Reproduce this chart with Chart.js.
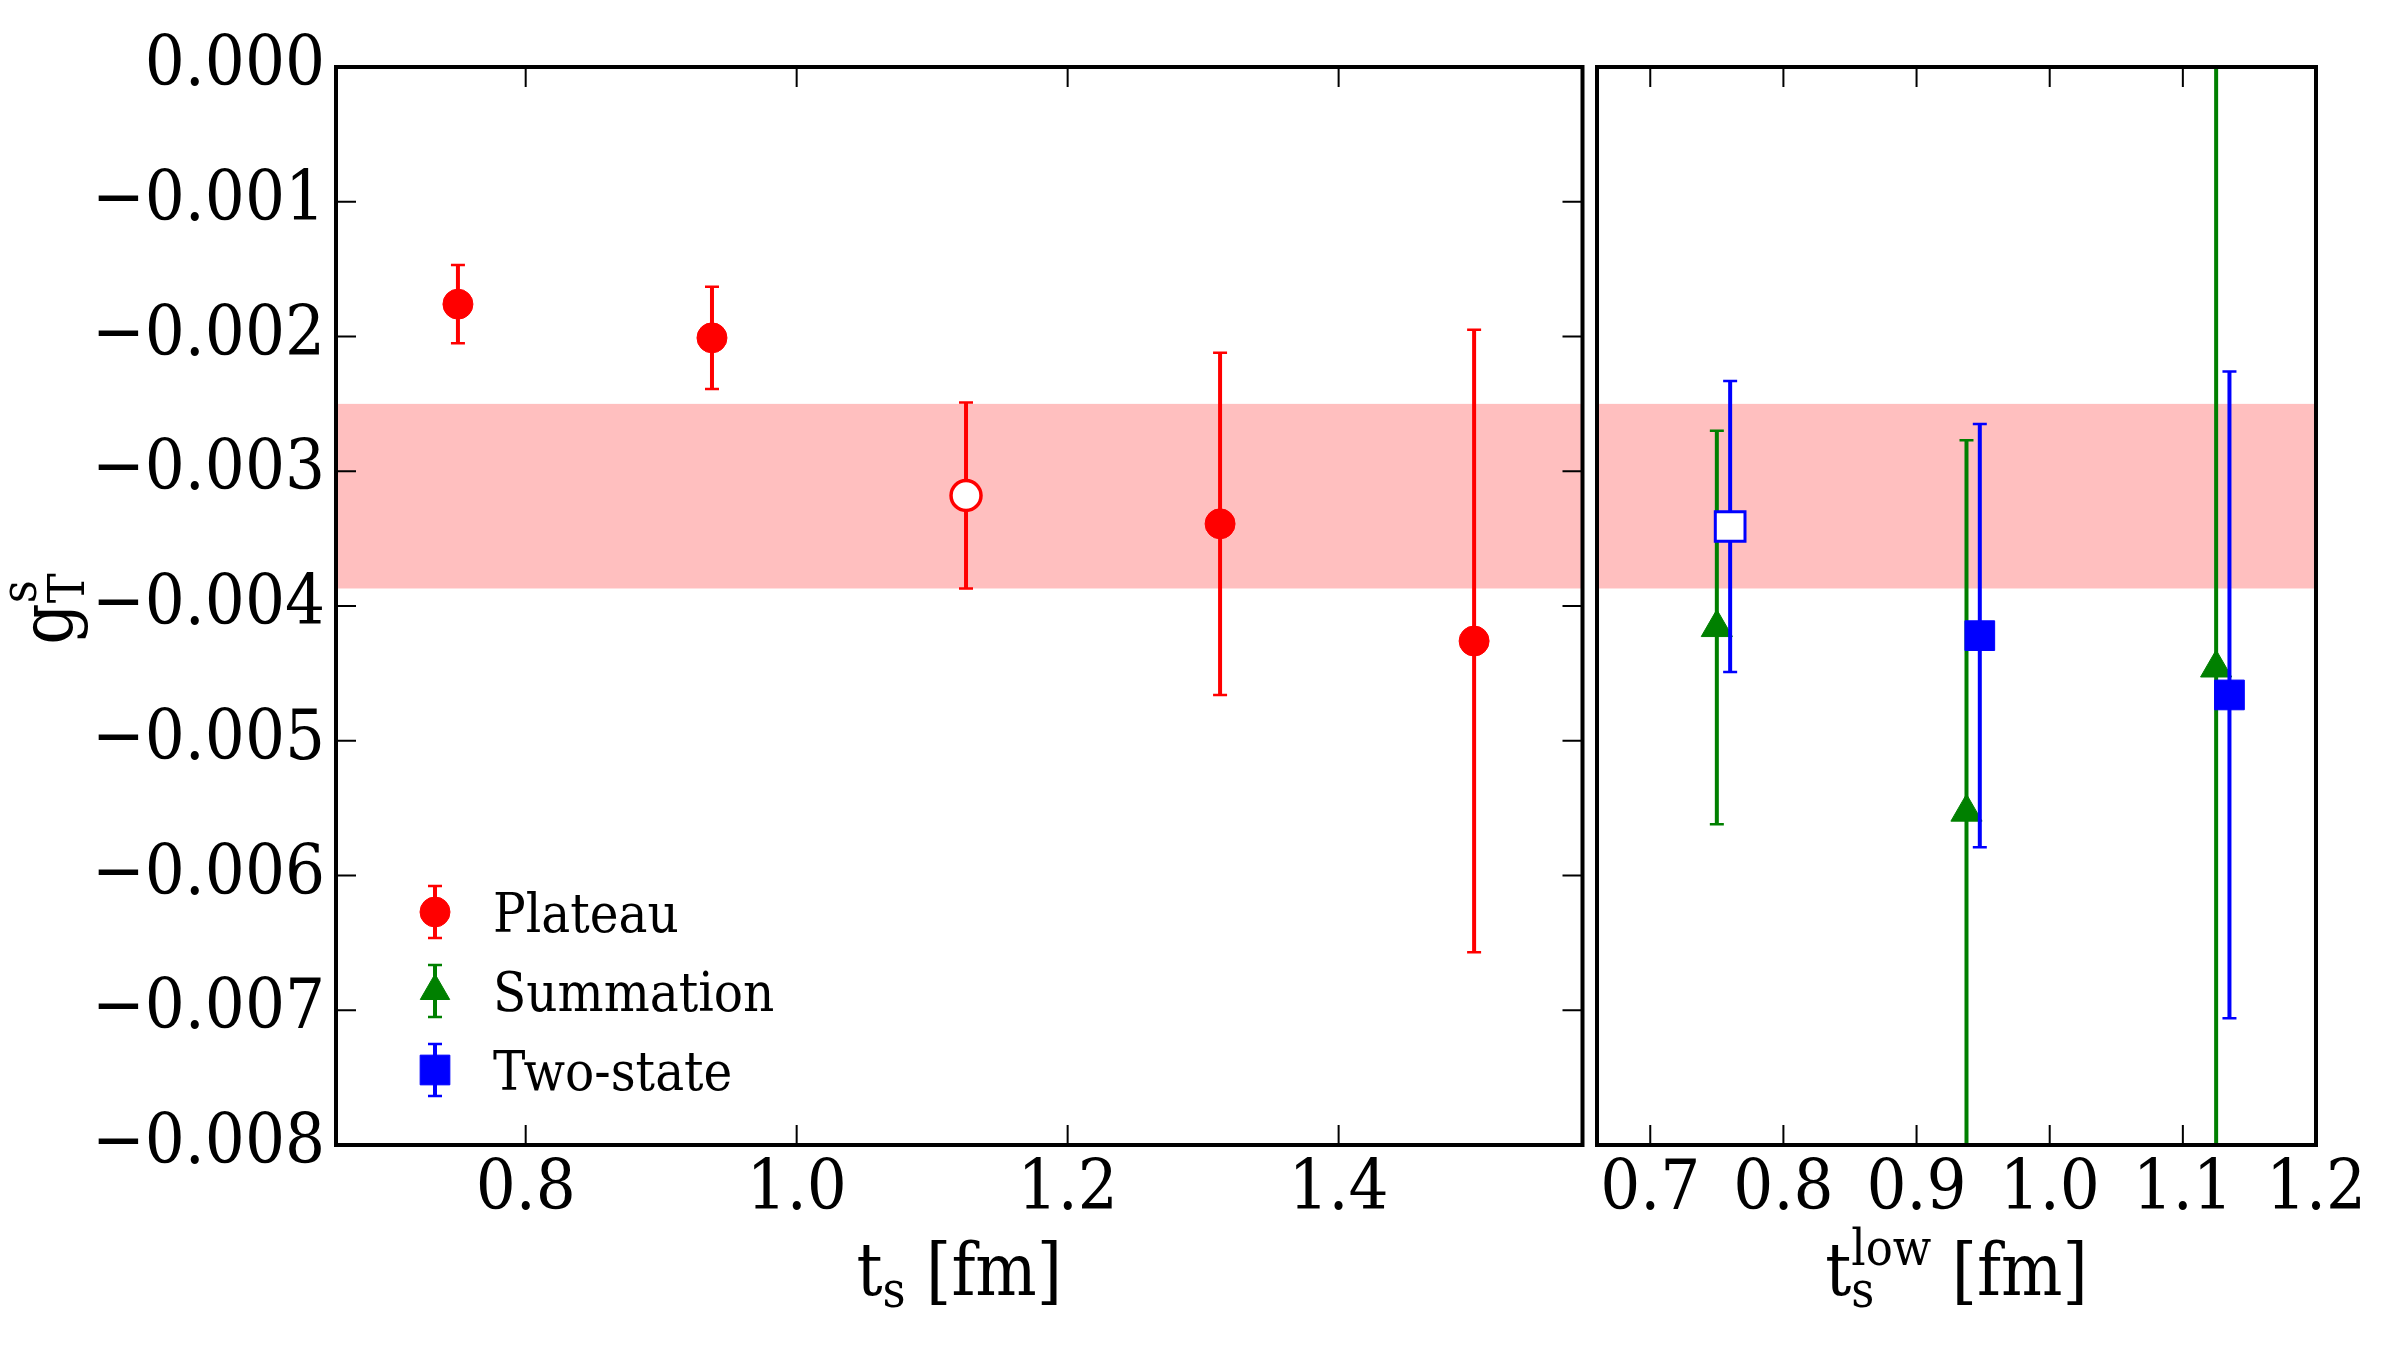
<!DOCTYPE html>
<html>
<head>
<meta charset="utf-8">
<script src="https://cdn.jsdelivr.net/npm/chart.js@4.4.1/dist/chart.umd.min.js"></script>
<style>
  body { margin: 0; background: #fff; }
  #wrap { position: relative; width: 2400px; height: 1350px; }
  #left { position: absolute; left: 0; top: 0; }
  #right { position: absolute; left: 1573px; top: 0; }
</style>
</head>
<body>
<div id="wrap">
  <canvas id="left" width="1601" height="1350"></canvas>
  <canvas id="right" width="827" height="1350"></canvas>
</div>
<script>
const FONT = "'DejaVu Serif Condensed', 'DejaVu Serif', serif";
const TICK_SIZE = 70;

// left panel: plateau values vs source-sink separation
const plateauT = [0.75, 0.9375, 1.125, 1.3125, 1.5];
const plateauVal = [-0.00176, -0.00201, -0.00318, -0.00339, -0.00426];
const plateauErr = [0.00029, 0.00038, 0.00069, 0.00127, 0.00231];
const plateauOpen = [false, false, true, false, false];

// right panel: summation and two-state fits vs lowest ts
const summationT = [0.75, 0.9375, 1.125];
const summationVal = [-0.00416, -0.00553, -0.00446];
const summationErr = [0.00146, 0.00276, 0.0048];

const twoStateT = [0.76, 0.9475, 1.135];
const twoStateVal = [-0.00341, -0.00422, -0.00466];
const twoStateErr = [0.00108, 0.00157, 0.0024];
const twoStateOpen = [true, false, false];

// final value band (low, high)
const band = [-0.00387, -0.00250];

const yTicks = [0, -0.001, -0.002, -0.003, -0.004, -0.005, -0.006, -0.007, -0.008];
const xTicksLeft = [0.8, 1.0, 1.2, 1.4];
const xTicksRight = [0.7, 0.8, 0.9, 1.0, 1.1, 1.2];

const RED = '#ff0000', GREEN = '#008000', BLUE = '#0000ff';

function fmtY(v) {
    if (Math.abs(v) < 1e-12) return '0.000';
    return (v < 0 ? '\u2212' : '') + Math.abs(v).toFixed(3);
}

const bandPlugin = {
    id: 'band',
    beforeDatasetsDraw(chart) {
        const {ctx, chartArea, scales} = chart;
        const y1 = scales.y.getPixelForValue(band[1]);
        const y0 = scales.y.getPixelForValue(band[0]);
        ctx.save();
        ctx.fillStyle = 'rgba(255, 0, 0, 0.25)';
        ctx.fillRect(chartArea.left, y1, chartArea.right - chartArea.left, y0 - y1);
        ctx.restore();
    }
};

// error bars drawn just before each dataset's markers
const errorBarPlugin = {
    id: 'errbars',
    beforeDatasetDraw(chart, args) {
        const ds = chart.data.datasets[args.index];
        if (!ds.errors) return;
        const {ctx, chartArea, scales} = chart;
        ctx.save();
        ctx.beginPath();
        ctx.rect(chartArea.left, chartArea.top, chartArea.right - chartArea.left, chartArea.bottom - chartArea.top);
        ctx.clip();
        ctx.strokeStyle = ds.borderColor;
        ds.data.forEach((p, i) => {
            const x = scales.x.getPixelForValue(p.x);
            const yt = scales.y.getPixelForValue(p.y + ds.errors[i]);
            const yb = scales.y.getPixelForValue(p.y - ds.errors[i]);
            ctx.lineWidth = 4;
            ctx.beginPath();
            ctx.moveTo(x, yt);
            ctx.lineTo(x, yb);
            ctx.stroke();
            ctx.lineWidth = 2.5;
            ctx.beginPath();
            ctx.moveTo(x - 7, yt); ctx.lineTo(x + 7, yt);
            ctx.moveTo(x - 7, yb); ctx.lineTo(x + 7, yb);
            ctx.stroke();
        });
        ctx.restore();
    }
};

// box and inward ticks like the matplotlib frame
const framePlugin = {
    id: 'frame',
    afterDraw(chart, args, opts) {
        const {ctx, chartArea, scales} = chart;
        const {left, right, top, bottom} = chartArea;
        ctx.save();
        ctx.strokeStyle = '#000';
        ctx.lineWidth = 2;
        ctx.beginPath();
        opts.xTicks.forEach(v => {
            const x = scales.x.getPixelForValue(v);
            ctx.moveTo(x, top); ctx.lineTo(x, top + 20);
            ctx.moveTo(x, bottom); ctx.lineTo(x, bottom - 20);
        });
        if (opts.yTicks) {
            yTicks.forEach(v => {
                const y = scales.y.getPixelForValue(v);
                ctx.moveTo(left, y); ctx.lineTo(left + 20, y);
                ctx.moveTo(right, y); ctx.lineTo(right - 20, y);
            });
        }
        ctx.stroke();
        ctx.lineWidth = 4;
        ctx.strokeRect(left, top, right - left, bottom - top);
        ctx.restore();
    }
};

// draws text pieces with sub/superscripts centred on cx
function richText(ctx, parts, cx, baseY) {
    const main = 72, small = 50;
    const widths = parts.map(p => {
        if (p.stack) {
            ctx.font = small + 'px ' + FONT;
            return Math.max(...p.stack.map(s => ctx.measureText(s.t).width));
        }
        ctx.font = main + 'px ' + FONT;
        return ctx.measureText(p.t).width;
    });
    let x = cx - widths.reduce((a, b) => a + b, 0) / 2;
    ctx.textAlign = 'left';
    ctx.textBaseline = 'alphabetic';
    ctx.fillStyle = '#000';
    parts.forEach((p, i) => {
        if (p.stack) {
            ctx.font = small + 'px ' + FONT;
            p.stack.forEach(s => ctx.fillText(s.t, x, baseY + s.dy));
        } else {
            ctx.font = main + 'px ' + FONT;
            ctx.fillText(p.t, x, baseY);
        }
        x += widths[i];
    });
}

const titlePlugin = {
    id: 'titles',
    afterDraw(chart, args, opts) {
        const {ctx, chartArea} = chart;
        ctx.save();
        const cx = (chartArea.left + chartArea.right) / 2;
        richText(ctx, opts.xParts, cx, 1295);
        if (opts.yParts) {
            ctx.translate(72, 609);
            ctx.rotate(-Math.PI / 2);
            richText(ctx, opts.yParts, 0, 0);
        }
        ctx.restore();
    }
};

const legendItems = [
    {label: 'Plateau', color: RED, style: 'circle', radius: 15},
    {label: 'Summation', color: GREEN, style: 'triangle', radius: 17},
    {label: 'Two-state', color: BLUE, style: 'rect', radius: 21}
];

const legendPlugin = {
    id: 'errLegend',
    afterDatasetsDraw(chart) {
        const {ctx} = chart;
        ctx.save();
        legendItems.forEach((it, i) => {
            const x = 435, y = 912 + i * 79;
            ctx.strokeStyle = it.color;
            ctx.fillStyle = it.color;
            ctx.lineWidth = 4;
            ctx.beginPath(); ctx.moveTo(x, y - 26); ctx.lineTo(x, y + 26); ctx.stroke();
            ctx.lineWidth = 2.5;
            ctx.beginPath();
            ctx.moveTo(x - 7, y - 26); ctx.lineTo(x + 7, y - 26);
            ctx.moveTo(x - 7, y + 26); ctx.lineTo(x + 7, y + 26);
            ctx.stroke();
            ctx.lineWidth = 1;
            Chart.helpers.drawPoint(ctx, {pointStyle: it.style, radius: it.radius, rotation: 0, borderWidth: 1}, x, y);
            ctx.fillStyle = '#000';
            ctx.font = '54px ' + FONT;
            ctx.textAlign = 'left';
            ctx.textBaseline = 'alphabetic';
            ctx.fillText(it.label, 493, y + 20);
        });
        ctx.restore();
    }
};

function points(xs, ys) {
    return xs.map((x, i) => ({x: x, y: ys[i]}));
}

function makeScales(xMin, xMax, xTicks, showY) {
    return {
        x: {
            type: 'linear', min: xMin, max: xMax,
            afterBuildTicks: s => { s.ticks = xTicks.map(v => ({value: v})); },
            afterFit: s => { s.height = 205; },
            grid: {display: false, drawTicks: false},
            border: {display: false},
            ticks: {
                color: '#000', padding: 4, maxRotation: 0, autoSkip: false,
                font: {family: FONT, size: TICK_SIZE},
                callback: v => v.toFixed(1)
            }
        },
        y: {
            type: 'linear', min: -0.008, max: 0, display: showY,
            afterBuildTicks: s => { s.ticks = yTicks.map(v => ({value: v})); },
            afterFit: s => { s.width = showY ? 336 : 0; },
            grid: {display: false, drawTicks: false},
            border: {display: false},
            ticks: {
                color: '#000', padding: 11, autoSkip: false,
                font: {family: FONT, size: TICK_SIZE},
                callback: v => fmtY(v)
            }
        }
    };
}

const commonOpts = {
    responsive: false,
    animation: false,
    events: [],
};

new Chart(document.getElementById('left'), {
    type: 'scatter',
    data: {
        datasets: [{
            label: 'Plateau',
            data: points(plateauT, plateauVal),
            errors: plateauErr,
            borderColor: RED,
            pointStyle: 'circle',
            pointRadius: 15,
            pointBorderWidth: plateauOpen.map(o => o ? 3.5 : 1),
            pointBorderColor: RED,
            pointBackgroundColor: plateauOpen.map(o => o ? '#fff' : RED)
        }]
    },
    options: Object.assign({}, commonOpts, {
        layout: {padding: {top: 67, right: 7, left: 0, bottom: 0}},
        scales: makeScales(0.66, 1.58, xTicksLeft, true),
        plugins: {
            legend: {display: false},
            tooltip: {enabled: false},
            frame: {xTicks: xTicksLeft, yTicks: true},
            titles: {
                xParts: [{t: 't'}, {stack: [{t: 's', dy: 12}]}, {t: ' [fm]'}],
                yParts: [{t: 'g'}, {stack: [{t: 'T', dy: 12}, {t: 's', dy: -36}]}]
            }
        }
    }),
    plugins: [bandPlugin, errorBarPlugin, framePlugin, titlePlugin, legendPlugin]
});

new Chart(document.getElementById('right'), {
    type: 'scatter',
    data: {
        datasets: [{
            label: 'Summation',
            order: 2,
            data: points(summationT, summationVal),
            errors: summationErr,
            borderColor: GREEN,
            pointStyle: 'triangle',
            pointRadius: 18,
            pointBorderWidth: 1,
            pointBorderColor: GREEN,
            pointBackgroundColor: GREEN
        }, {
            label: 'Two-state',
            order: 1,
            data: points(twoStateT, twoStateVal),
            errors: twoStateErr,
            borderColor: BLUE,
            pointStyle: 'rect',
            pointRadius: 21,
            pointBorderWidth: twoStateOpen.map(o => o ? 3 : 1),
            pointBorderColor: BLUE,
            pointBackgroundColor: twoStateOpen.map(o => o ? '#fff' : BLUE)
        }]
    },
    options: Object.assign({}, commonOpts, {
        layout: {padding: {top: 67, right: 84, left: 6, bottom: 0}},
        scales: makeScales(0.66, 1.2, xTicksRight, false),
        plugins: {
            legend: {display: false},
            tooltip: {enabled: false},
            frame: {xTicks: xTicksRight, yTicks: false},
            titles: {
                xParts: [{t: 't'}, {stack: [{t: 's', dy: 12}, {t: 'low', dy: -30}]}, {t: ' [fm]'}]
            }
        }
    }),
    plugins: [bandPlugin, errorBarPlugin, framePlugin, titlePlugin]
});
</script>
</body>
</html>
